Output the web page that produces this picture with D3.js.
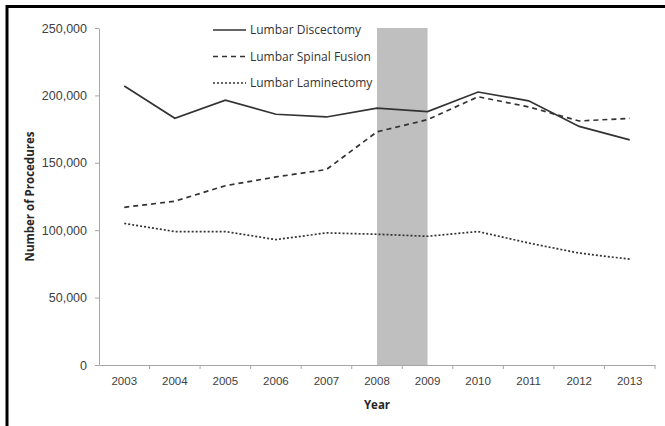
<!DOCTYPE html>
<html>
<head>
<meta charset="utf-8">
<script src="https://cdn.jsdelivr.net/npm/d3@7"></script>
<style>
  body { margin: 0; background: #fff; }
  svg { display: block; font-family: "Open Sans", sans-serif; }
  .axis path, .axis line { stroke: #a6a6a6; }
  .axis text { fill: #404040; font-size: 11.5px; }
  .y-axis text { font-size: 12.5px; }
</style>
</head>
<body>
<svg id="chart"></svg>
<script>
var years = ["2003", "2004", "2005", "2006", "2007", "2008", "2009", "2010", "2011", "2012", "2013"];
var discectomy = [207000, 183000, 196500, 186000, 184000, 190500, 188000, 202500, 196000, 177000, 167000];
var fusion = [117000, 121500, 133000, 139500, 145000, 173000, 182000, 199000, 191500, 181000, 183000];
var laminectomy = [105000, 99000, 99000, 93000, 98000, 97000, 95500, 99000, 90500, 83000, 78500];
var seriesNames = ["Lumbar Discectomy", "Lumbar Spinal Fusion", "Lumbar Laminectomy"];
var yTicks = [0, 50000, 100000, 150000, 200000, 250000];
var shadedYears = ["2008", "2009"];

var width = 665, height = 426;
var svg = d3.select("#chart").attr("width", width).attr("height", height);

// frame (only top and left edges show in the crop)
svg.append("path")
    .attr("d", "M7,426V6.5H665")
    .attr("fill", "none")
    .attr("stroke", "#000")
    .attr("stroke-width", 3);

var x = d3.scaleBand().domain(years).range([99, 655]).padding(0);
var y = d3.scaleLinear().domain([0, 250000]).range([365, 28]);

// recession band, from middle of 2008 to middle of 2009
svg.append("rect")
    .attr("x", x(shadedYears[0]) + x.bandwidth() / 2)
    .attr("width", x(shadedYears[1]) - x(shadedYears[0]))
    .attr("y", y(250000))
    .attr("height", y(0) - y(250000))
    .attr("fill", "#bfbfbf");

// y axis
svg.append("g")
    .attr("class", "axis y-axis")
    .attr("transform", "translate(99,0)")
    .call(d3.axisLeft(y).tickValues(yTicks).tickFormat(d3.format(",")).tickSize(4).tickSizeOuter(0).tickPadding(8));

// x axis with labels centred and ticks between categories
var xAxis = svg.append("g")
    .attr("class", "axis")
    .attr("transform", "translate(0,365)")
    .call(d3.axisBottom(x).tickSize(0).tickPadding(12).tickSizeOuter(0));
xAxis.selectAll(".tick-b")
    .data(years)
    .enter().append("line")
    .attr("class", "tick-b")
    .attr("x1", function(d) { return x(d) + x.step(); })
    .attr("x2", function(d) { return x(d) + x.step(); })
    .attr("y1", 0)
    .attr("y2", 4);

svg.append("text")
    .attr("x", x("2008") + x.bandwidth() / 2)
    .attr("y", 409)
    .attr("text-anchor", "middle")
    .attr("font-weight", "bold")
    .attr("font-size", 11.5)
    .attr("fill", "#262626")
    .text("Year");

svg.append("text")
    .attr("transform", "translate(34," + ((y(0) + y(250000)) / 2) + ") rotate(-90)")
    .attr("text-anchor", "middle")
    .attr("font-weight", "bold")
    .attr("font-size", 11.5)
    .attr("fill", "#262626")
    .text("Number of Procedures");

var series = [
    {name: seriesNames[0], values: discectomy, dash: null},
    {name: seriesNames[1], values: fusion, dash: "5,4"},
    {name: seriesNames[2], values: laminectomy, dash: "2,2"}
];

var line = d3.line()
    .x(function(d, i) { return x(years[i]) + x.bandwidth() / 2; })
    .y(function(d) { return y(d); });

svg.selectAll(".series")
    .data(series)
    .enter().append("path")
    .attr("class", "series")
    .attr("d", function(d) { return line(d.values); })
    .attr("fill", "none")
    .attr("stroke", "#333")
    .attr("stroke-width", 1.7)
    .attr("stroke-dasharray", function(d) { return d.dash; });

// legend
var legend = svg.selectAll(".legend")
    .data(series)
    .enter().append("g")
    .attr("class", "legend")
    .attr("transform", function(d, i) { return "translate(213," + (30 + i * 26.5) + ")"; });

legend.append("line")
    .attr("x1", 0).attr("x2", 33)
    .attr("stroke", "#333")
    .attr("stroke-width", 1.7)
    .attr("stroke-dasharray", function(d) { return d.dash; });

legend.append("text")
    .attr("x", 37)
    .attr("dy", "0.35em")
    .attr("font-size", 12)
    .attr("fill", "#333")
    .text(function(d) { return d.name; });
</script>
</body>
</html>
